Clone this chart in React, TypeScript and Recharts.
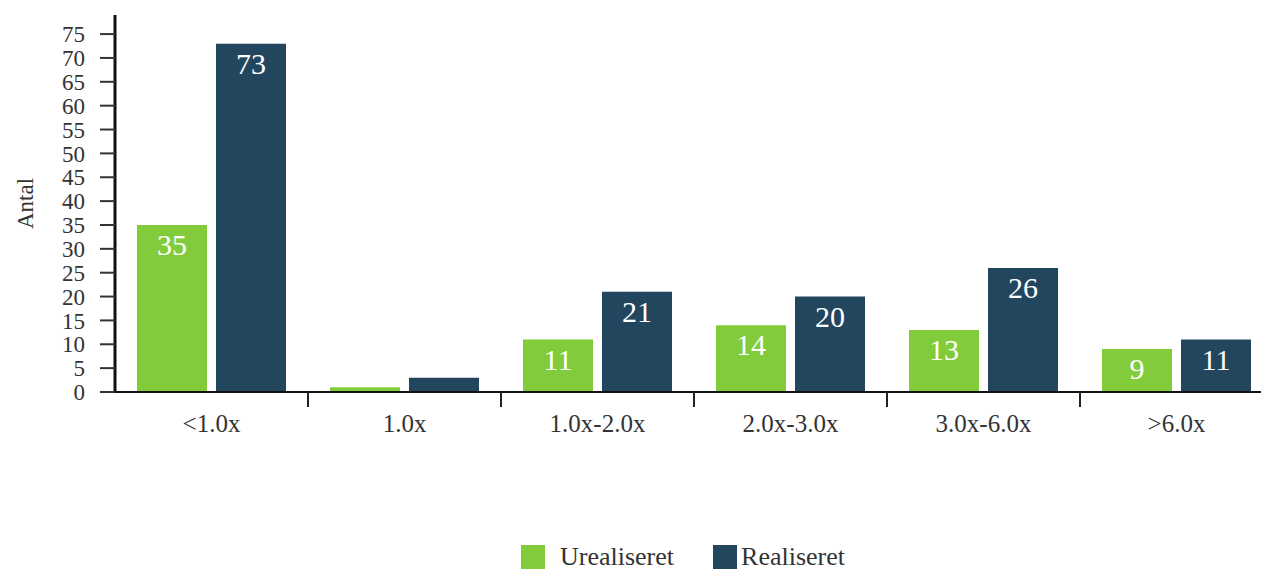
import React from 'react';
import { BarChart, Bar, XAxis, YAxis, LabelList, Legend } from 'recharts';

const categories = ['<1.0x', '1.0x', '1.0x-2.0x', '2.0x-3.0x', '3.0x-6.0x', '>6.0x'];
const urealiseret = [35, 1, 11, 14, 13, 9];
const realiseret = [73, 3, 21, 20, 26, 11];
const yTicks = [0, 5, 10, 15, 20, 25, 30, 35, 40, 45, 50, 55, 60, 65, 70, 75];

const GREEN = '#82cc3c';
const BLUE = '#22465e';
const FONT = '"Liberation Serif", "Times New Roman", serif';
const X_TICK_MARGIN = 22;

const data = categories.map((name, i) => ({
  name,
  urealiseret: urealiseret[i],
  realiseret: realiseret[i],
}));

const legendItems = [
  { label: 'Urealiseret', color: GREEN, gapBefore: 0, textGap: 15 },
  { label: 'Realiseret', color: BLUE, gapBefore: 39, textGap: 4 },
];

function ChartLegend() {
  return (
    <div
      style={{
        display: 'flex',
        alignItems: 'center',
        height: 24,
        paddingLeft: 521,
        fontFamily: FONT,
        fontSize: 26,
        lineHeight: '24px',
        color: '#333',
      }}
    >
      {legendItems.map((it) => (
        <div
          key={it.label}
          style={{ display: 'flex', alignItems: 'center', marginLeft: it.gapBefore }}
        >
          <span style={{ width: 24, height: 24, background: it.color, display: 'inline-block' }} />
          <span style={{ marginLeft: it.textGap }}>{it.label}</span>
        </div>
      ))}
    </div>
  );
}

function AntalLabel({ viewBox }: any) {
  const cy = viewBox.y + viewBox.height / 2;
  return (
    <text
      x={33}
      y={cy}
      transform={`rotate(-90, 33, ${cy})`}
      textAnchor="middle"
      fontSize={23}
      fill="#333"
    >
      Antal
    </text>
  );
}

// category label at the band centre, tick mark at the band's left edge
function CategoryTick({ x, y, payload, index }: any) {
  const axisY = y - X_TICK_MARGIN;
  const left = x - (payload.offset ?? 0);
  return (
    <g>
      {index > 0 && (
        <line x1={left} x2={left} y1={axisY} y2={axisY + 15} stroke="#222" strokeWidth={2} />
      )}
      <text x={x} y={y} dy="0.71em" textAnchor="middle" fontSize={25} fill="#333">
        {payload.value}
      </text>
    </g>
  );
}

export default function App() {
  return (
    <div
      style={{
        position: 'absolute',
        left: 0,
        top: 0,
        width: 1261,
        height: 573,
        overflow: 'hidden',
        background: '#fff',
        fontFamily: FONT,
      }}
    >
      <style>{`svg text { font-family: "Liberation Serif", "Times New Roman", serif; }`}</style>
      <BarChart
        width={1280}
        height={573}
        data={data}
        margin={{ top: 15, right: 7, left: 0, bottom: 4 }}
        barCategoryGap={22}
        barGap={9}
      >
        <XAxis
          dataKey="name"
          height={153}
          axisLine={{ stroke: '#111', strokeWidth: 2 }}
          tickLine={false}
          tickSize={0}
          tickMargin={X_TICK_MARGIN}
          tick={<CategoryTick />}
          interval={0}
        />
        <YAxis
          width={115}
          domain={[0, 79]}
          ticks={yTicks}
          interval={0}
          allowDataOverflow
          axisLine={{ stroke: '#111', strokeWidth: 3 }}
          tickLine={{ stroke: '#333', strokeWidth: 2 }}
          tickSize={15}
          tickMargin={15}
          tick={{ fontSize: 23, fill: '#333' }}
          label={{ content: AntalLabel }}
        />
        <Legend verticalAlign="bottom" content={() => <ChartLegend />} />
        <Bar dataKey="urealiseret" name="Urealiseret" fill={GREEN} isAnimationActive={false}>
          <LabelList
            dataKey="urealiseret"
            position="insideTop"
            offset={9}
            fill="#fff"
            fontSize={30}
            formatter={(v: any) => (v >= 5 ? v : '')}
          />
        </Bar>
        <Bar dataKey="realiseret" name="Realiseret" fill={BLUE} isAnimationActive={false}>
          <LabelList
            dataKey="realiseret"
            position="insideTop"
            offset={9}
            fill="#fff"
            fontSize={30}
            formatter={(v: any) => (v >= 5 ? v : '')}
          />
        </Bar>
      </BarChart>
    </div>
  );
}
